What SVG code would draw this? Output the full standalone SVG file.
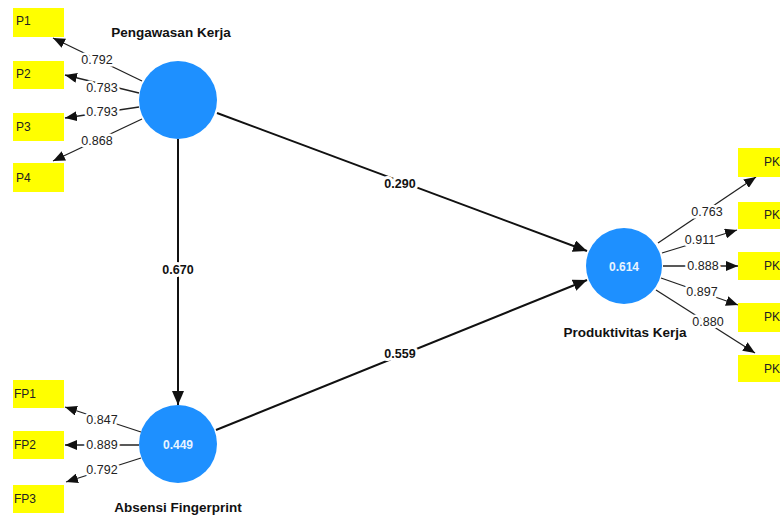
<svg xmlns="http://www.w3.org/2000/svg" width="780" height="516" viewBox="0 0 780 516">
<style>
.box{fill:#FFFF00}
.bt{font-family:"Liberation Sans",Arial,sans-serif;font-size:12px;fill:#222}
.lv{fill:#1E90FF}
.ttl{font-family:"Liberation Sans",Arial,sans-serif;font-size:13.5px;font-weight:bold;fill:#111;text-anchor:middle}
.cv{font-family:"Liberation Sans",Arial,sans-serif;font-size:12px;font-weight:bold;fill:#E8F4FF;text-anchor:middle}
.ld{stroke:#222;stroke-width:1.3;fill:none}
.pth{stroke:#111;stroke-width:2;fill:none}
.lt{font-family:"Liberation Sans",Arial,sans-serif;font-size:12.5px;fill:#222;text-anchor:middle;paint-order:stroke;stroke:#fff;stroke-width:5px;stroke-linejoin:round}
.pt{font-family:"Liberation Sans",Arial,sans-serif;font-size:12.5px;font-weight:bold;fill:#111;text-anchor:middle;paint-order:stroke;stroke:#fff;stroke-width:6px;stroke-linejoin:round}
</style>
<defs>
<marker id="a" markerUnits="userSpaceOnUse" markerWidth="12" markerHeight="10" refX="12" refY="5" orient="auto"><path d="M0,0 L12,5 L0,10 Z" fill="#111"/></marker>
<marker id="b" markerUnits="userSpaceOnUse" markerWidth="14" markerHeight="12" refX="14" refY="6" orient="auto"><path d="M0,0 L14,6 L0,12 Z" fill="#111"/></marker>
</defs>
<rect width="780" height="516" fill="#fff"/>

<g id="connectors">
<line class="ld" x1="142" y1="81" x2="53" y2="38" marker-end="url(#a)"/>
<line class="ld" x1="139" y1="93" x2="65" y2="75" marker-end="url(#a)"/>
<line class="ld" x1="139" y1="107" x2="65" y2="118" marker-end="url(#a)"/>
<line class="ld" x1="142" y1="119" x2="53" y2="161" marker-end="url(#a)"/>
<line class="ld" x1="141" y1="432" x2="65" y2="407" marker-end="url(#a)"/>
<line class="ld" x1="139" y1="445" x2="65" y2="445" marker-end="url(#a)"/>
<line class="ld" x1="141" y1="458" x2="66" y2="482" marker-end="url(#a)"/>
<line class="ld" x1="658" y1="243" x2="756" y2="177" marker-end="url(#a)"/>
<line class="ld" x1="662" y1="253" x2="737" y2="230" marker-end="url(#a)"/>
<line class="ld" x1="663" y1="266" x2="738" y2="266" marker-end="url(#a)"/>
<line class="ld" x1="661" y1="278" x2="738" y2="305" marker-end="url(#a)"/>
<line class="ld" x1="656" y1="290" x2="755" y2="353" marker-end="url(#a)"/>
<line class="pth" x1="217" y1="113" x2="587" y2="251" marker-end="url(#b)"/>
<line class="pth" x1="178" y1="139" x2="178" y2="405" marker-end="url(#b)"/>
<line class="pth" x1="216" y1="430" x2="587" y2="280" marker-end="url(#b)"/>
<text class="lt" x="97" y="64">0.792</text>
<text class="lt" x="102" y="92">0.783</text>
<text class="lt" x="102" y="116">0.793</text>
<text class="lt" x="97" y="145">0.868</text>
<text class="lt" x="102" y="424">0.847</text>
<text class="lt" x="102" y="449">0.889</text>
<text class="lt" x="102" y="474">0.792</text>
<text class="lt" x="707" y="216">0.763</text>
<text class="lt" x="700" y="244">0.911</text>
<text class="lt" x="703" y="270">0.888</text>
<text class="lt" x="702" y="296">0.897</text>
<text class="lt" x="708" y="326">0.880</text>
<text class="pt" x="400" y="188">0.290</text>
<text class="pt" x="178" y="274">0.670</text>
<text class="pt" x="400" y="358">0.559</text>
</g>

<g id="P1"><rect class="box" x="13" y="8" width="51" height="29"/><text class="bt" x="16" y="25">P1</text></g>
<g id="P2"><rect class="box" x="13" y="61" width="51" height="28"/><text class="bt" x="16" y="78">P2</text></g>
<g id="P3"><rect class="box" x="13" y="113" width="51" height="28"/><text class="bt" x="16" y="131">P3</text></g>
<g id="P4"><rect class="box" x="13" y="163" width="51" height="29"/><text class="bt" x="16" y="182">P4</text></g>
<g id="FP1"><rect class="box" x="13" y="380" width="51" height="28"/><text class="bt" x="14" y="398">FP1</text></g>
<g id="FP2"><rect class="box" x="13" y="431" width="51" height="28"/><text class="bt" x="14" y="449">FP2</text></g>
<g id="FP3"><rect class="box" x="13" y="485" width="51" height="28"/><text class="bt" x="14" y="503">FP3</text></g>
<g id="PK1"><rect class="box" x="738" y="148" width="50" height="29"/><text class="bt" x="764" y="166">PK</text></g>
<g id="PK2"><rect class="box" x="738" y="202" width="50" height="27"/><text class="bt" x="764" y="219">PK</text></g>
<g id="PK3"><rect class="box" x="738" y="252" width="50" height="28"/><text class="bt" x="764" y="270">PK</text></g>
<g id="PK4"><rect class="box" x="738" y="303" width="50" height="29"/><text class="bt" x="764" y="321">PK</text></g>
<g id="PK5"><rect class="box" x="738" y="355" width="50" height="27"/><text class="bt" x="764" y="373">PK</text></g>

<g id="PengawasanKerja"><circle class="lv" cx="178" cy="100" r="39"/><text class="ttl" x="171" y="37">Pengawasan Kerja</text></g>
<g id="AbsensiFingerprint"><circle class="lv" cx="178" cy="444" r="39"/><text class="cv" x="178" y="449">0.449</text><text class="ttl" x="178" y="512">Absensi Fingerprint</text></g>
<g id="ProduktivitasKerja"><circle class="lv" cx="624" cy="266" r="38"/><text class="cv" x="624" y="271">0.614</text><text class="ttl" x="625" y="337">Produktivitas Kerja</text></g>
</svg>
